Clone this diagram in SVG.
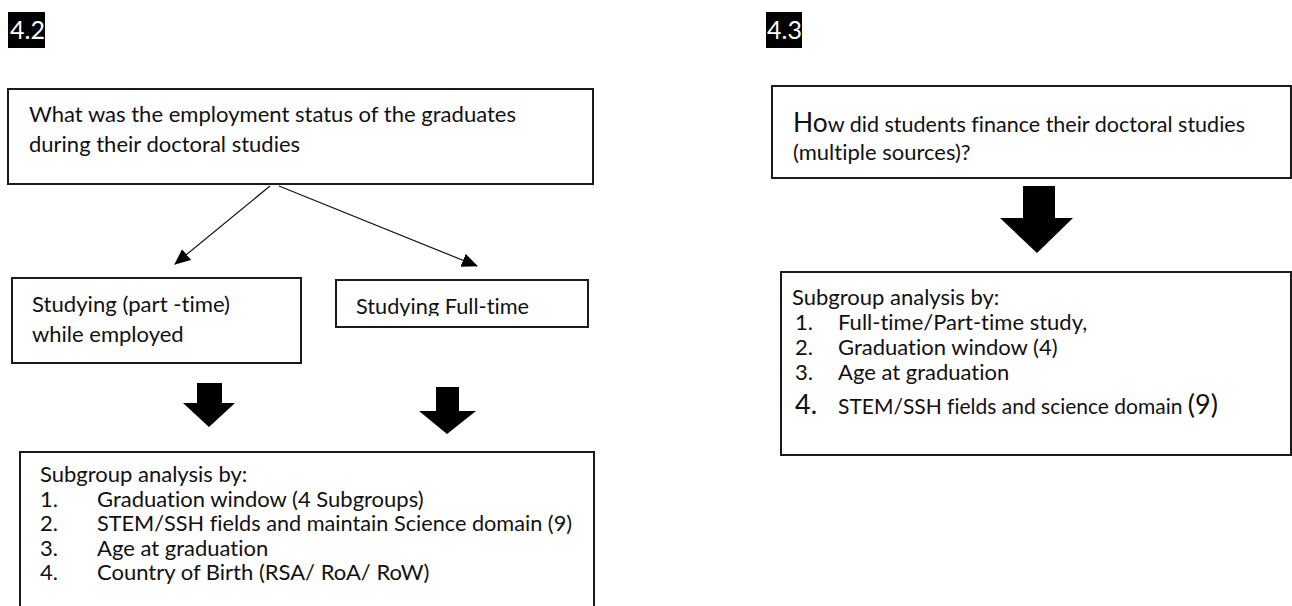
<svg xmlns="http://www.w3.org/2000/svg" width="1292" height="606" viewBox="0 0 1292 606">
<style>
text{font-family:Lato,"Liberation Sans",sans-serif;font-size:22px;fill:#111;font-variant-ligatures:none;}
.box{fill:#fff;stroke:#1a1a1a;stroke-width:2;}
.tag{fill:#000;}
text.tagt{fill:#fff;font-size:25px;}
text.lg{font-size:27px;}
.conn{stroke:#111;stroke-width:1.2;fill:none;}
.big{fill:#000;}
</style>
<defs>
<marker id="ah" viewBox="0 0 16 14" refX="15" refY="7" markerWidth="16" markerHeight="14" markerUnits="userSpaceOnUse" orient="auto">
<path d="M0,0 L16,7 L0,14 Z" fill="#000"/>
</marker>
<clipPath id="ftclip"><rect x="336" y="280" width="252" height="36"/></clipPath>
</defs>

<g id="label42">
<rect class="tag" x="8" y="12" width="37" height="36"/>
<text class="tagt" x="10" y="39">4.2</text>
</g>
<g id="label43">
<rect class="tag" x="766" y="12" width="36" height="36"/>
<text class="tagt" x="767" y="39">4.3</text>
</g>

<g id="q42">
<rect class="box" x="8" y="89" width="585" height="95"/>
<text x="29" y="122" textLength="487" lengthAdjust="spacingAndGlyphs">What was the employment status of the graduates</text>
<text x="29" y="152">during their doctoral studies</text>
</g>

<g id="parttime">
<rect class="box" x="12" y="278" width="289" height="85"/>
<text x="32" y="312" textLength="198" lengthAdjust="spacingAndGlyphs">Studying (part -time)</text>
<text x="32" y="342">while employed</text>
</g>

<g id="fulltime">
<rect class="box" x="336" y="280" width="252" height="47"/>
<text x="356" y="314" clip-path="url(#ftclip)" textLength="173" lengthAdjust="spacingAndGlyphs">Studying Full-time</text>
</g>

<g id="sub42">
<path class="box" d="M20,608 L20,452 L594,452 L594,608"/>
<text x="40" y="482">Subgroup analysis by:</text>
<text x="40" y="506.5">1.</text><text x="97" y="506.5">Graduation window (4 Subgroups)</text>
<text x="40" y="531">2.</text><text x="97" y="531" textLength="475" lengthAdjust="spacingAndGlyphs">STEM/SSH fields and maintain Science domain (9)</text>
<text x="40" y="555.5">3.</text><text x="97" y="555.5">Age at graduation</text>
<text x="40" y="580">4.</text><text x="97" y="580">Country of Birth (RSA/ RoA/ RoW)</text>
</g>

<g id="q43">
<rect class="box" x="772" y="86" width="519" height="92"/>
<text x="793" y="132" textLength="452" lengthAdjust="spacingAndGlyphs"><tspan style="font-size:27px">Ho</tspan>w did students finance their doctoral studies</text>
<text x="793" y="160">(multiple sources)?</text>
</g>

<g id="sub43">
<rect class="box" x="781" y="272" width="510" height="183"/>
<text x="792" y="305">Subgroup analysis by:</text>
<text x="795" y="330">1.</text><text x="838" y="330">Full-time/Part-time study,</text>
<text x="795" y="355">2.</text><text x="838" y="355">Graduation window (4)</text>
<text x="795" y="380">3.</text><text x="838" y="380">Age at graduation</text>
<text class="lg" x="795" y="414">4.</text><text x="838" y="414"><tspan style="font-size:21px">STEM/SSH fields and science domain </tspan><tspan style="font-size:27px">(9)</tspan></text>
</g>

<g id="connectors">
<line class="conn" x1="270" y1="186" x2="175" y2="264" marker-end="url(#ah)"/>
<line class="conn" x1="279" y1="186" x2="477" y2="266" marker-end="url(#ah)"/>
<path class="big" d="M197,383 H222 V403 H235 L209,427 L183,403 H197 Z"/>
<path class="big" d="M436,387 H459 V411 H476 L447,434 L419,411 H436 Z"/>
<path class="big" d="M1023,186 H1055 V218 H1073 L1037,253 L1000,218 H1023 Z"/>
</g>
</svg>
